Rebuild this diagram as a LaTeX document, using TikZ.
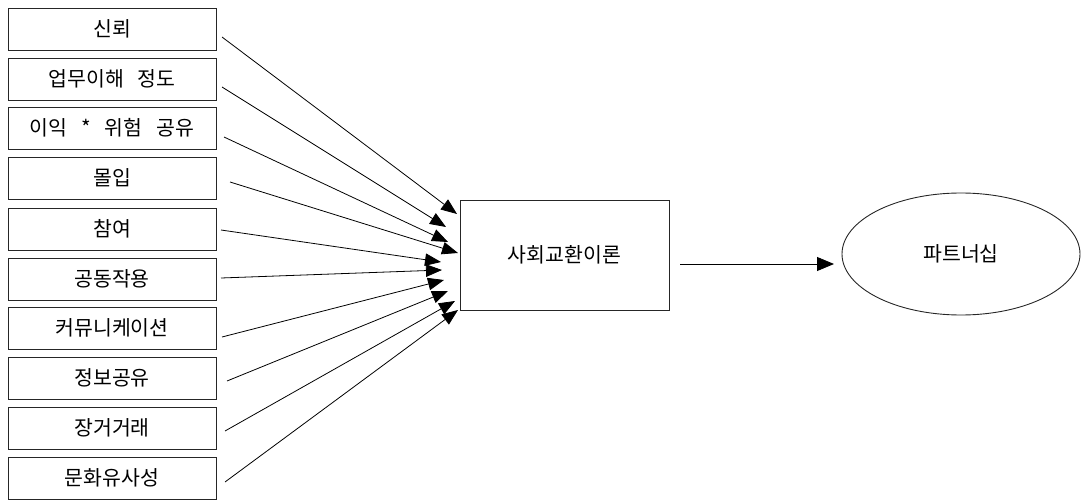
\documentclass[tikz,border=0pt]{standalone}
\usepackage{fontspec}
\newfontfamily\kr{Noto Sans CJK KR}[WordSpace=3]
\usetikzlibrary{arrows.meta,shapes.geometric}
\begin{document}
\begin{tikzpicture}[x=1pt,y=-1pt,
  every node/.style={font=\kr\fontsize{20.5}{24}\selectfont, inner sep=0pt},
  lbox/.style={draw=black!85, line width=0.9pt, minimum width=208pt, minimum height=42pt},
  cbox/.style={draw=black!85, line width=0.9pt, minimum width=209pt, minimum height=110pt},
  oval/.style={ellipse, draw=black!85, line width=0.9pt, minimum width=238pt, minimum height=122pt},
  link/.style={line width=0.8pt, -{Triangle[length=16pt,width=12.5pt]}},
  mainlink/.style={line width=0.9pt, -{Triangle[length=17pt,width=14pt]}}]
\useasboundingbox (0,0) rectangle (1082,500);
\node[lbox] (b1) at (112,29) {신뢰};
\node[lbox] (b2) at (112,79) {업무이해 정도};
\node[lbox] (b3) at (112,128) {이익 * 위험 공유};
\node[lbox] (b4) at (112,178) {몰입};
\node[lbox] (b5) at (112,229) {참여};
\node[lbox] (b6) at (112,279) {공동작용};
\node[lbox] (b7) at (112,328) {커뮤니케이션};
\node[lbox] (b8) at (112,378) {정보공유};
\node[lbox] (b9) at (112,428) {장거거래};
\node[lbox] (b10) at (112,478) {문화유사성};
\node[cbox] (c) at (564.5,255) {사회교환이론};
\node[oval] (p) at (961,254) {파트너십};
% connector start points
\coordinate (s1) at (222,37);
\coordinate (s2) at (222,87);
\coordinate (s3) at (224,137);
\coordinate (s4) at (230,182);
\coordinate (s5) at (221,230);
\coordinate (s6) at (221,278);
\coordinate (s7) at (222,337);
\coordinate (s8) at (227,381);
\coordinate (s9) at (225,431);
\coordinate (s10) at (225,482);
% arrow tips
\coordinate (t1) at (457,214);
\coordinate (t2) at (446,227);
\coordinate (t3) at (448,242);
\coordinate (t4) at (458,253);
\coordinate (t5) at (441,262);
\coordinate (t6) at (442,270);
\coordinate (t7) at (444,280);
\coordinate (t8) at (448,291);
\coordinate (t9) at (455,301);
\coordinate (t10) at (458,310);
\foreach \i in {1,...,10} {\draw[link] (s\i) -- (t\i);}
\coordinate (m1) at (680,264);
\coordinate (m2) at (834,264);
\draw[mainlink] (m1) -- (m2);
\end{tikzpicture}
\end{document}
